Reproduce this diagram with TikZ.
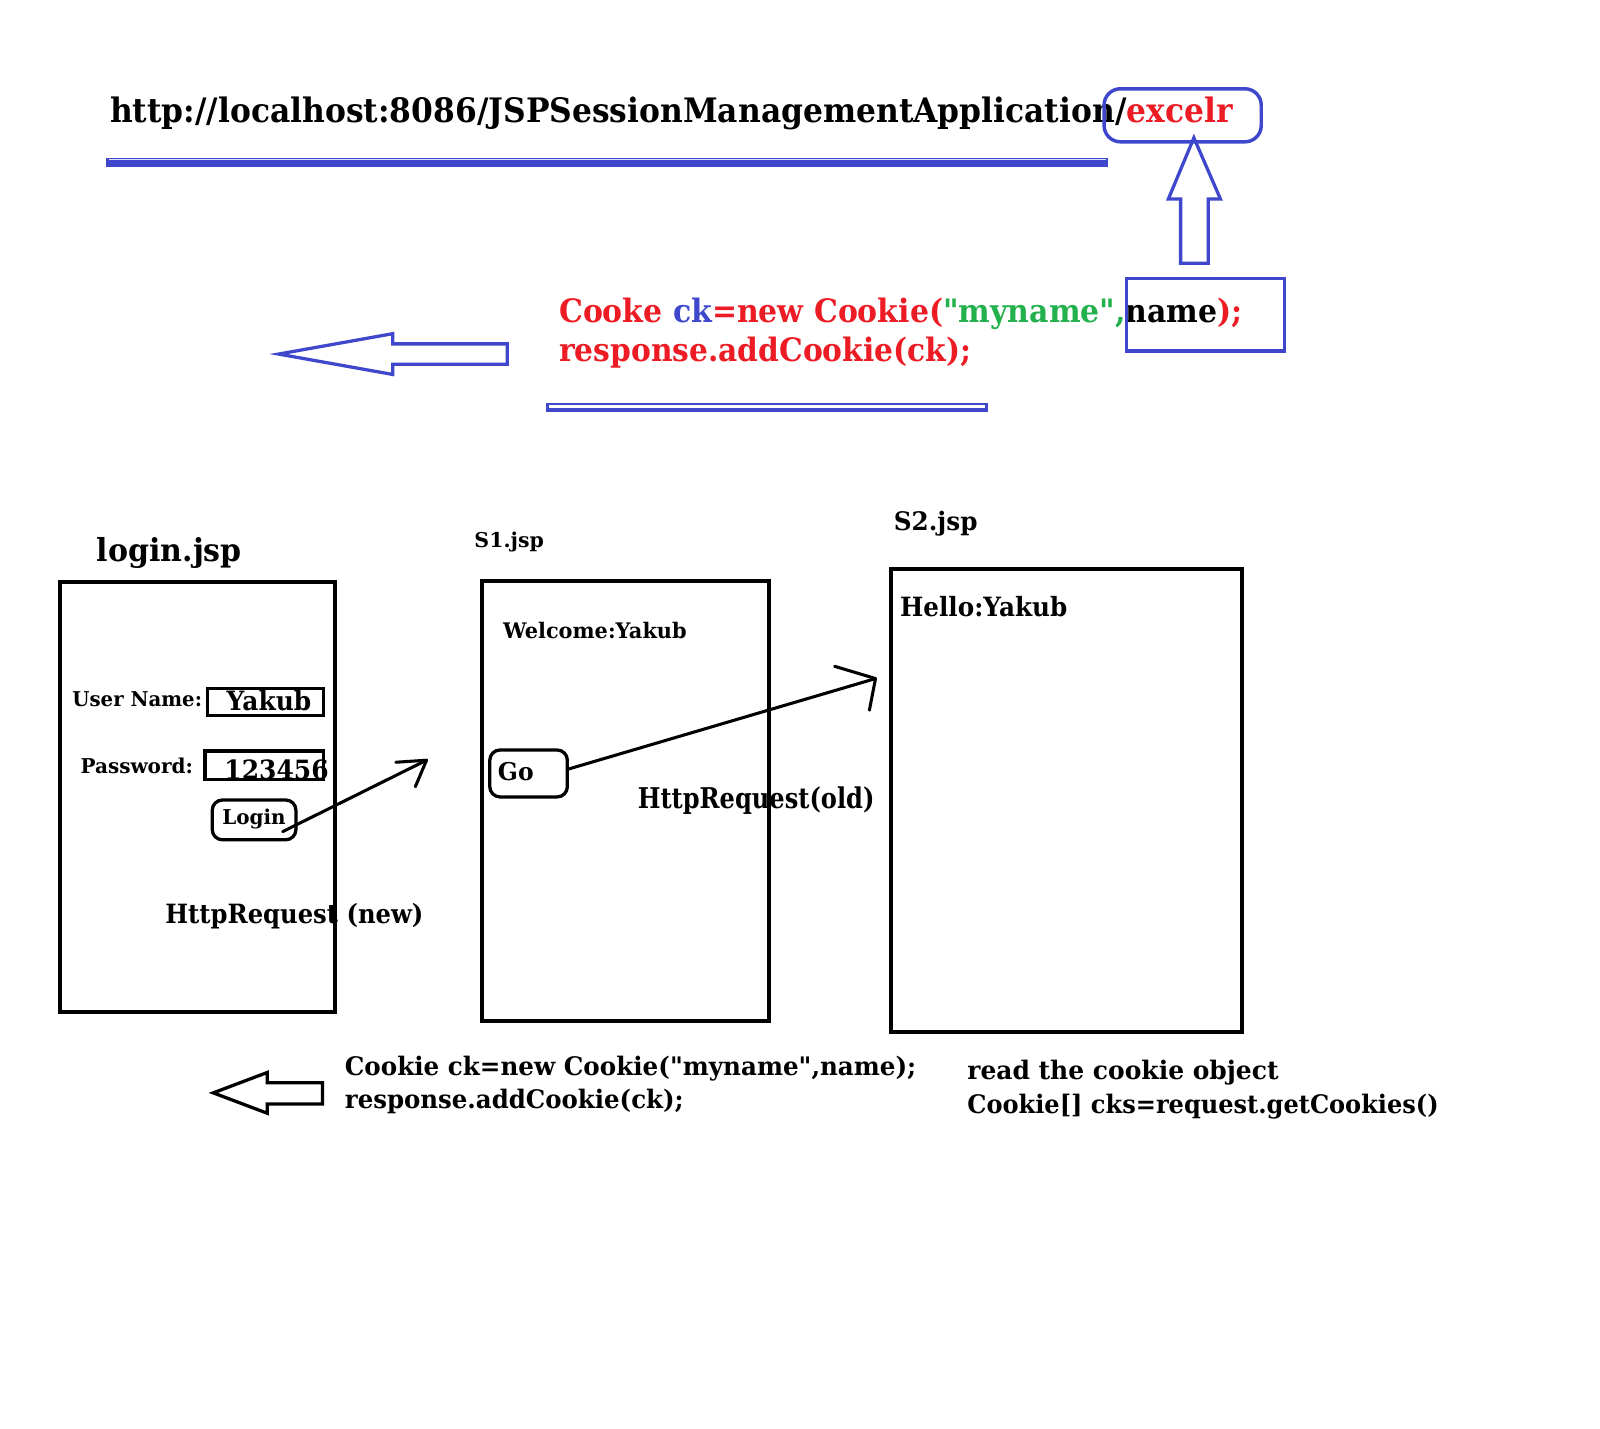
\documentclass[tikz,border=0pt]{standalone}
\usepackage{fontspec}
\setmainfont{DejaVu Serif}[Ligatures=TeXOff]
\usepackage{graphicx}
\usetikzlibrary{fit}
\definecolor{pblue}{RGB}{63,72,204}
\definecolor{pred}{RGB}{237,28,36}
\definecolor{pgreen}{RGB}{34,177,76}
\definecolor{plight}{RGB}{215,220,248}
\newdimen\upx \upx=0.5pt
\newcommand\tx[3]{\resizebox{#1\upx}{\height}{\fontsize{#2}{#2}\selectfont\bfseries #3}}
\tikzset{
 lbl/.style={anchor=base west, inner sep=0pt, outer sep=0pt},
 page/.style={draw=black, line width=2pt, inner sep=0pt},
 field/.style={draw=black, line width=1.6pt, inner sep=0pt},
 btn/.style={draw=black, line width=1.6pt, rounded corners=5pt, inner sep=0pt},
 bluebox/.style={draw=pblue, line width=1.7pt, inner sep=0pt},
 bluerbox/.style={draw=pblue, line width=1.7pt, inner sep=0pt, rounded corners=8pt},
 band/.style={fill=pblue, draw=none, inner sep=0pt},
 glint/.style={draw=plight, line cap=butt},
 blockarrow/.style={draw=pblue, line width=1.6pt, line join=miter},
 blackarrow/.style={draw=black, line width=1.6pt, line join=miter},
 flow/.style={draw=black, line width=1.5pt, line cap=round, line join=round},
}
\begin{document}
\begin{tikzpicture}[x=0.5pt, y=-0.5pt]
\fill[white] (0,0) rectangle (1568,1400);
\useasboundingbox (0,0) rectangle (1568,1400);

% ---------- top part ----------
\node[lbl] (url) at (108,120) {\tx{1100}{16.5}{http://localhost:8086/JSPSessionManagementApplication/\textcolor{pred}{excelr}}};
\node[band, fit={(104,154.5) (1086,163.5)}] (ul1) {};
\draw[glint, line width=0.6pt] ([xshift=1.5pt,yshift=1.5pt]ul1.west) -- ([xshift=-1.5pt,yshift=1.5pt]ul1.east);
\node[bluerbox, fit={(1082,87) (1236,139)}] (excelr) {};

\node[lbl] (code1) at (548,316) {\tx{670}{15.8}{\textcolor{pred}{Cooke }\textcolor{pblue}{ck}\textcolor{pred}{=new Cookie(}\textcolor{pgreen}{"myname",}name\textcolor{pred}{);}}};
\node[lbl] (code2) at (548,354) {\tx{404}{15.8}{\textcolor{pred}{response.addCookie(ck);}}};
\node[bluebox, fit={(1104,273) (1259,344)}] (namebox) {};
\node[band, fit={(535,394.5) (968,403.5)}] (ul2) {};
\draw[glint, draw=white, line width=1.1pt] ([xshift=1.5pt,yshift=0.3pt]ul2.west) -- ([xshift=-1.5pt,yshift=0.3pt]ul2.east);

% block arrows
\draw[blockarrow] (1170,135) -- (1196,195) -- (1184,195) -- (1184,258) -- (1157,258) -- (1157,195) -- (1145,195) -- cycle;
\draw[blockarrow] (273,347) -- (385,327) -- (385,337) -- (497,337) -- (497,357) -- (385,357) -- (385,367) -- cycle;

% ---------- login.jsp ----------
\node[lbl] (t-login) at (95,550) {\tx{142}{15.5}{login.jsp}};
\node[lbl] (t-user) at (71,692) {\tx{127}{10}{User Name:}};
\node[lbl] (t-yakub) at (222,696) {\tx{83}{13}{Yakub}};
\node[lbl] (t-pass) at (79,758) {\tx{110}{10}{Password:}};
\node[lbl] (t-pwd) at (220,764) {\tx{102}{13}{123456}};
\node[lbl] (t-lbtn) at (218,808) {\tx{62}{10}{Login}};
\node[lbl] (t-new) at (162,905) {\tx{253}{13}{HttpRequest (new)}};
\node[page, fit={(59,570) (328,992)}] (loginpage) {};
\node[field, fit={(203,675) (317,701)}] (userfield) {};
\node[field, fit={(201,736) (317,764)}] (passfield) {};
\node[btn, fit={(208,784) (290,823)}] (loginbtn) {};

% ---------- S1.jsp ----------
\node[lbl] (t-s1) at (465,537) {\tx{68}{10}{S1.jsp}};
\node[lbl] (t-welcome) at (493,626) {\tx{180}{10.5}{Welcome:Yakub}};
\node[lbl] (t-go) at (488,765) {\tx{35}{12}{Go}};
\node[lbl] (t-old) at (625,792) {\tx{232}{14}{HttpRequest(old)}};
\node[page, fit={(472,569) (754,1001)}] (s1page) {};
\node[btn, fit={(480,735) (556,781)}] (gobtn) {};

% ---------- S2.jsp ----------
\node[lbl] (t-s2) at (876,520) {\tx{82}{12.5}{S2.jsp}};
\node[lbl] (t-hello) at (882,604) {\tx{164}{13}{Hello:Yakub}};
\node[page, fit={(873,558) (1217,1011)}] (s2page) {};

% ---------- flow arrows ----------
\coordinate (lstart) at (277,815);
\coordinate (tip1) at (418,745);
\draw[flow] (lstart) -- (tip1);
\draw[flow] (tip1) ++(-30,2) -- (tip1) -- ++(-11,26);
\coordinate (gostart) at (556,754);
\coordinate (tip2) at (858,665);
\draw[flow] (gostart) -- (tip2);
\draw[flow] (tip2) ++(-40,-12) -- (tip2) -- ++(-6,31);

% ---------- bottom ----------
\draw[blackarrow] (209,1071) -- (262,1051) -- (262,1061) -- (316,1061) -- (316,1082) -- (262,1082) -- (262,1091) -- cycle;
\node[lbl] (b1) at (338,1054) {\tx{560}{12.5}{Cookie ck=new Cookie("myname",name);}};
\node[lbl] (b2) at (338,1086) {\tx{332}{12.5}{response.addCookie(ck);}};
\node[lbl] (b3) at (948,1058) {\tx{305}{12.5}{read the cookie object}};
\node[lbl] (b4) at (948,1091) {\tx{462}{12.5}{Cookie[] cks=request.getCookies()}};
\end{tikzpicture}
\end{document}
